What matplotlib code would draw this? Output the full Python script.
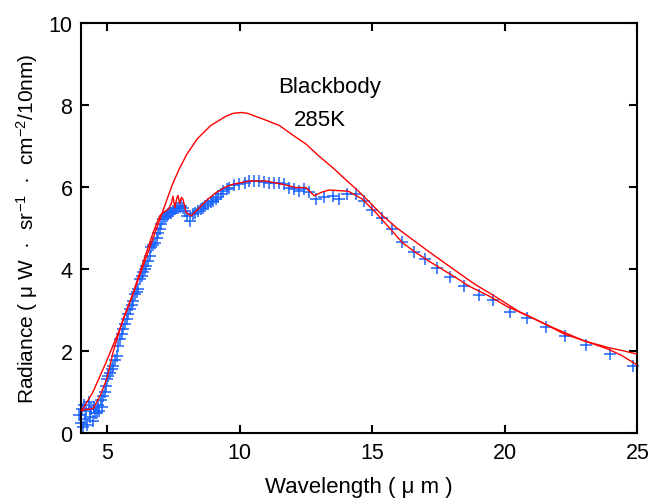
import matplotlib
matplotlib.use("Agg")
import matplotlib.pyplot as plt

plt.rcParams['font.family'] = ['Liberation Sans', 'DejaVu Sans']
plt.rcParams['mathtext.fontset'] = 'custom'
plt.rcParams['mathtext.rm'] = 'Liberation Sans'
plt.rcParams['mathtext.it'] = 'Liberation Sans'

# --- Data ---
# Blackbody 285K curve
bb_x = [3.8, 4.1, 4.45, 4.95, 5.45, 5.95, 6.45, 6.95, 7.2, 7.45, 7.7, 8.0, 8.4,
        8.9, 9.45, 9.75, 10.05, 10.3, 10.5, 11.0, 11.5, 12.0, 12.5, 13.0, 13.5,
        14.0, 14.4, 14.9, 15.4, 15.9, 16.5, 17.15, 17.8, 18.5, 18.9, 19.6, 20.6,
        21.8, 23.0, 23.9, 24.4, 25.0]
bb_y = [0.38, 0.62, 0.99, 1.72, 2.5, 3.35, 4.25, 5.15, 5.6, 6.05, 6.42, 6.8, 7.18,
        7.5, 7.72, 7.8, 7.82, 7.8, 7.75, 7.63, 7.5, 7.27, 7.05, 6.75, 6.48,
        6.18, 5.95, 5.63, 5.3, 5.02, 4.73, 4.42, 4.12, 3.8, 3.62, 3.35, 2.94,
        2.58, 2.25, 2.09, 2.02, 1.93]

# Model curve
mod_x = [3.85, 4.0, 4.2, 4.47, 4.73, 4.98, 5.23, 5.6, 5.98, 6.35, 6.73, 6.98, 7.15,
         7.3, 7.42, 7.48, 7.55, 7.62, 7.67, 7.73, 7.8, 7.86, 7.98, 8.17, 8.42, 8.8,
         9.11, 9.42, 9.74, 10.36, 10.99, 11.62, 12.12, 12.5, 12.81, 13.1, 13.37,
         14.1, 14.62, 15.13, 15.63, 16.13, 16.63, 17.13, 17.63, 18.14, 18.64,
         19.39, 20.14, 20.77, 21.52, 22.27, 23.02, 23.9, 24.4, 25.0]
mod_y = [0.3, 0.55, 0.58, 0.6, 0.91, 1.32, 2.0, 2.78, 3.43, 4.16, 4.89, 5.3, 5.4,
         5.46, 5.6, 5.78, 5.5, 5.72, 5.8, 5.6, 5.75, 5.7, 5.38, 5.3, 5.46, 5.71,
         5.87, 5.99, 6.07, 6.15, 6.15, 6.07, 5.99, 5.99, 5.79, 5.88, 5.93,
         5.9, 5.71, 5.38, 5.02, 4.65, 4.41, 4.2, 4.0, 3.8, 3.59,
         3.35, 3.07, 2.9, 2.66, 2.41, 2.25, 2.05, 1.9, 1.66]

# Measured radiance
obs_x = [3.95, 4.0, 4.03, 4.08, 4.12, 4.17, 4.2, 4.25, 4.3, 4.35, 4.4, 4.45, 4.5,
         4.55, 4.6, 4.65, 4.7, 4.75, 4.8, 4.85, 4.9, 4.95, 4.98, 5.04, 5.1, 5.17,
         5.23, 5.29, 5.35, 5.41, 5.48, 5.54, 5.6, 5.66, 5.73, 5.79, 5.85, 5.92,
         5.98, 6.04, 6.11, 6.17, 6.23, 6.3, 6.36, 6.42, 6.48, 6.55, 6.61, 6.67,
         6.73, 6.79, 6.86, 6.92, 6.98, 7.04, 7.11, 7.17, 7.24, 7.29, 7.36, 7.42,
         7.48, 7.55, 7.61, 7.67, 7.73, 7.8, 7.86, 7.92, 8.0, 8.11, 8.23, 8.32,
         8.42, 8.52, 8.61, 8.7, 8.8, 8.9, 8.99, 9.09, 9.18, 9.28, 9.37, 9.52,
         9.61, 9.8, 9.99, 10.18, 10.36, 10.55, 10.74, 10.93, 11.12, 11.3, 11.49,
         11.68, 11.87, 12.06, 12.25, 12.44, 12.62, 12.87, 13.19, 13.5, 13.75,
         14.06, 14.38, 14.69, 15.0, 15.35, 15.75, 16.13, 16.57, 17.0, 17.44,
         17.94, 18.45, 19.01, 19.54, 20.2, 20.83, 21.54, 22.27, 23.05, 23.96, 24.84]
obs_y = [0.45, 0.25, 0.6, 0.15, 0.7, 0.35, 0.55, 0.2, 0.75, 0.4, 0.6, 0.3, 0.65,
         0.5, 0.5, 0.7, 0.55, 0.8, 0.65, 0.91, 1.0, 1.15, 1.32, 1.4, 1.48, 1.56,
         1.64, 1.78, 1.89, 2.13, 2.29, 2.42, 2.54, 2.66, 2.78, 2.9, 3.02, 3.12,
         3.23, 3.39, 3.45, 3.51, 3.76, 3.84, 3.92, 4.0, 4.08, 4.2, 4.32, 4.53,
         4.6, 4.65, 4.77, 4.88, 4.98, 5.1, 5.22, 5.26, 5.3, 5.34, 5.36, 5.38,
         5.42, 5.46, 5.48, 5.5, 5.52, 5.54, 5.5, 5.42, 5.3, 5.18, 5.34, 5.38,
         5.42, 5.46, 5.5, 5.55, 5.59, 5.63, 5.67, 5.71, 5.75, 5.83, 5.91, 5.95,
         5.99, 6.05, 6.07, 6.11, 6.15, 6.15, 6.15, 6.13, 6.11, 6.11, 6.1,
         6.07, 5.99, 5.95, 5.91, 5.95, 5.87, 5.71, 5.75, 5.79, 5.72,
         5.83, 5.83, 5.67, 5.45, 5.24, 4.98, 4.67, 4.41, 4.24, 4.02,
         3.82, 3.59, 3.37, 3.24, 2.96, 2.8, 2.6, 2.37, 2.15, 1.94, 1.64]

x_ticks = [5, 10, 15, 20, 25]
y_ticks = [0, 2, 4, 6, 8, 10]

# --- Plot ---
fig = plt.figure(figsize=(6.51, 5.02), dpi=100)
ax = fig.add_axes([0.124, 0.135, 0.855, 0.817])

ax.plot(obs_x, obs_y, linestyle='none', marker='+', markersize=8.5,
        markeredgewidth=1.1, color='#1a63ff', clip_on=False, zorder=2)
ax.plot(bb_x, bb_y, color='#ff0000', linewidth=1.0, zorder=3)
ax.plot(mod_x, mod_y, color='#ff0000', linewidth=1.0, zorder=3)

ax.text(13.37, 8.46, 'Blackbody', ha='center', va='center', fontsize=16)
ax.text(13.04, 7.66, '285K', ha='center', va='center', fontsize=16)

ax.set_xlim(4, 25)
ax.set_ylim(0, 10)
ax.set_xticks(x_ticks)
ax.set_yticks(y_ticks)
ax.tick_params(direction='in', length=6, width=1.5, labelsize=15.5,
               top=True, right=True, pad=6)
for s in ax.spines.values():
    s.set_linewidth(1.5)

ax.set_xlabel('Wavelength ( μ m )', fontsize=16, labelpad=10)
ax.set_ylabel('Radiance ( μ W  ·  sr$^{-1}$  ·  cm$^{-2}$/10nm)', fontsize=15,
              labelpad=6)

fig.savefig('out.png', dpi=100)
